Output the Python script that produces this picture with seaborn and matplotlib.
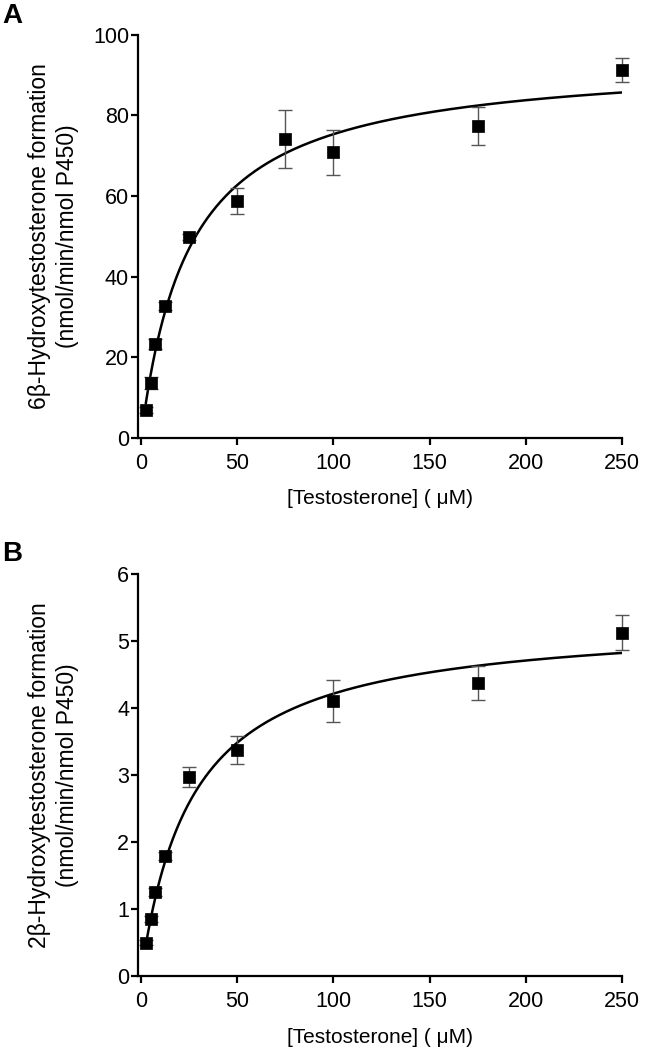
import numpy as np
import pandas as pd
import matplotlib
matplotlib.use("Agg")
import matplotlib.pyplot as plt
import seaborn as sns

# testosterone concentrations (uM)
conc = [2.5, 5, 7.5, 12.5, 25, 50, 75, 100, 175, 250]

# panel A: 6beta-hydroxylation
rate_6b = [6.9, 13.5, 23.3, 32.8, 49.8, 58.7, 74.2, 70.8, 77.3, 91.2]
err_6b = [0.8, 1.5, 1.2, 1.0, 0.8, 3.2, 7.2, 5.5, 4.7, 2.9]

# panel B: 2beta-hydroxylation (no 75 uM point)
conc_2b = [2.5, 5, 7.5, 12.5, 25, 50, 100, 175, 250]
rate_2b = [0.50, 0.85, 1.26, 1.79, 2.97, 3.37, 4.11, 4.38, 5.13]
err_2b = [0.04, 0.05, 0.06, 0.06, 0.15, 0.21, 0.31, 0.25, 0.26]

# Michaelis-Menten fit parameters (Vmax, Km)
fit_6b = (94.3, 25.2)
fit_2b = (5.34, 26.6)

sns.set_style("ticks")
plt.rcParams["font.family"] = ["Liberation Sans", "DejaVu Sans"]
plt.rcParams["text.color"] = "black"
plt.rcParams["axes.labelcolor"] = "black"
plt.rcParams["xtick.color"] = "black"
plt.rcParams["ytick.color"] = "black"
plt.rcParams["axes.edgecolor"] = "black"

fig = plt.figure(figsize=(6.67, 10.5), dpi=100)
ax_a = fig.add_axes([0.207, 0.583, 0.726, 0.384])
ax_b = fig.add_axes([0.207, 0.0705, 0.726, 0.3825])


def draw_panel(ax, x, y, err, fit, ymax, ystep, ylabel):
    vmax, km = fit
    xs = np.linspace(2.5, 250, 400)
    curve = pd.DataFrame({"x": xs, "y": vmax * xs / (km + xs)})
    sns.lineplot(data=curve, x="x", y="y", ax=ax, color="black", lw=1.8)
    ax.errorbar(x, y, yerr=err, fmt="none", ecolor="#555555", elinewidth=1.0,
                capsize=4.7, capthick=1.0, zorder=3, clip_on=False)
    pts = pd.DataFrame({"x": x, "y": y})
    sns.scatterplot(data=pts, x="x", y="y", ax=ax, marker="s", s=80,
                    color="black", edgecolor="black", linewidth=0.5,
                    zorder=4, clip_on=False)
    ax.set_xlim(-1.5, 250)
    ax.set_ylim(0, ymax)
    ax.set_xticks([0, 50, 100, 150, 200, 250])
    ax.set_yticks(np.arange(0, ymax + ystep / 2, ystep))
    sns.despine(ax=ax)
    for s in ["left", "bottom"]:
        ax.spines[s].set_linewidth(1.6)
    ax.tick_params(width=1.6, length=5, labelsize=15.5)
    ax.tick_params(axis="x", pad=6)
    ax.tick_params(axis="y", pad=1.5)
    ax.set_xlabel("[Testosterone] ( \u03bcM)", fontsize=15, labelpad=11)
    ax.set_ylabel(ylabel, fontsize=16.5, linespacing=1.25)
    ax.yaxis.set_label_coords(-0.122, 0.5)


draw_panel(ax_a, conc, rate_6b, err_6b, fit_6b, 100, 20,
           "6\u03b2-Hydroxytestosterone formation\n(nmol/min/nmol P450)")
draw_panel(ax_b, conc_2b, rate_2b, err_2b, fit_2b, 6, 1,
           "2\u03b2-Hydroxytestosterone formation\n(nmol/min/nmol P450)")

fig.text(0.003, 1 - 3 / 1050, "A", fontsize=20, fontweight="bold", va="top")
fig.text(0.003, 1 - 541 / 1050, "B", fontsize=20, fontweight="bold", va="top")

fig.savefig("out.png", dpi=100)
